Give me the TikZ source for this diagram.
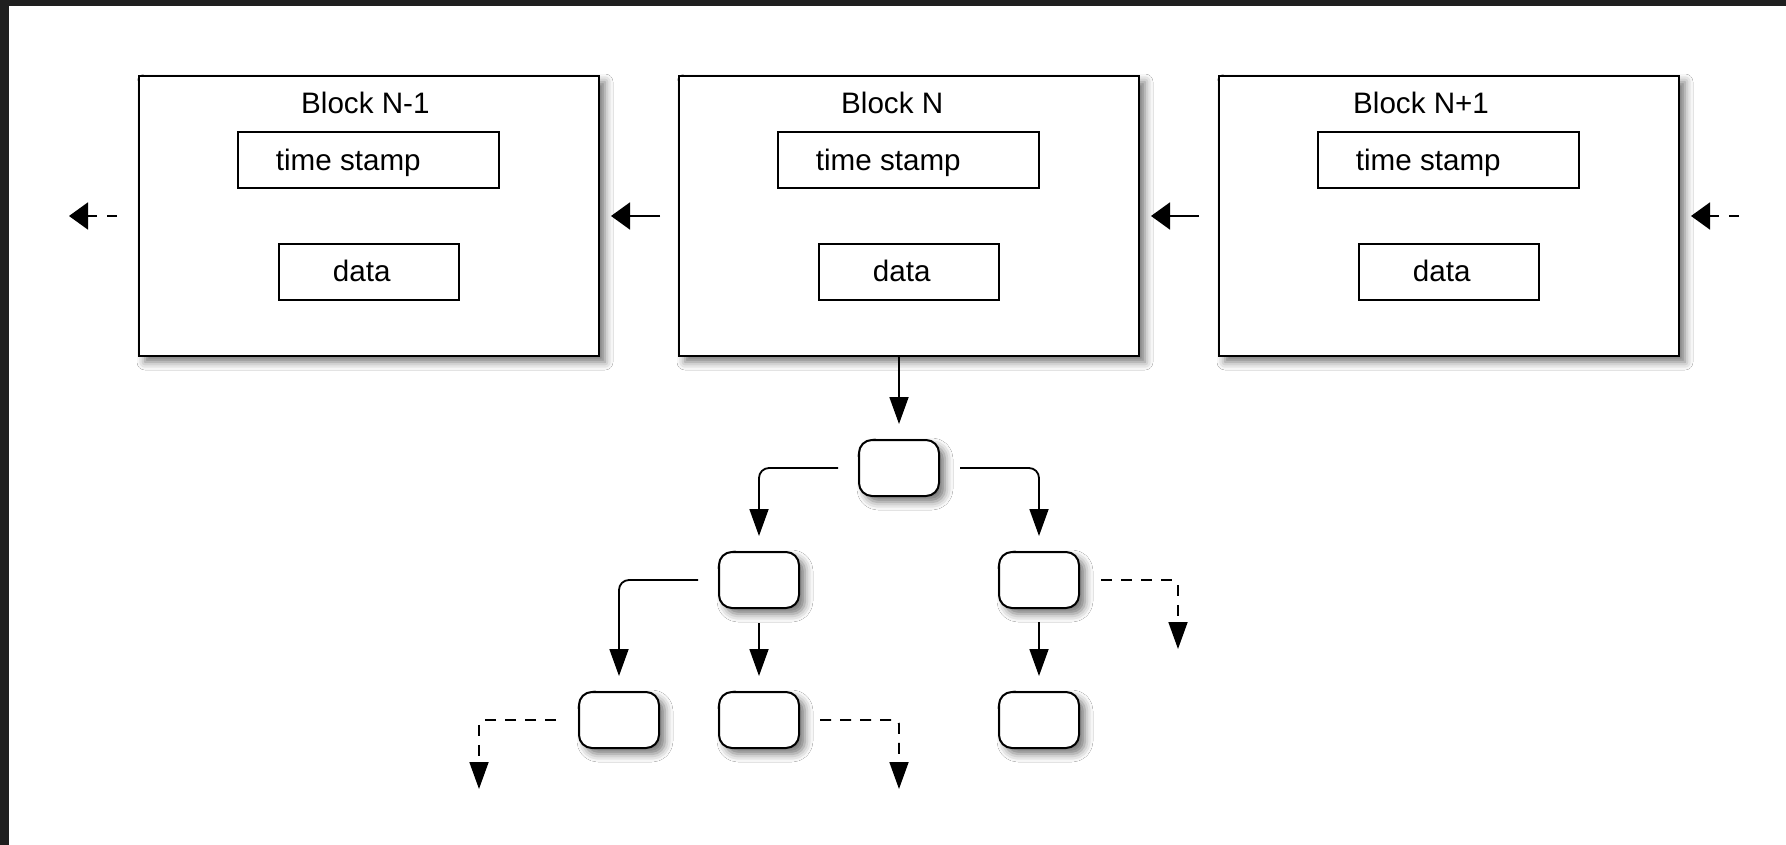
\documentclass[tikz,border=0pt]{standalone}
\usepackage{fontspec}
\setmainfont{Liberation Sans}
\usetikzlibrary{arrows.meta,shadows.blur,calc}
\definecolor{framedark}{HTML}{1F1F1F}
\begin{document}
\begin{tikzpicture}[x=1pt,y=-1pt,
  softshadow/.style={blur shadow={shadow xshift=6pt, shadow yshift=-6pt, shadow blur radius=8pt, shadow opacity=55}},
  blockbox/.style={draw=black, line width=2pt, fill=white, minimum width=460pt, minimum height=280pt, inner sep=0pt, softshadow},
  fieldbox/.style={draw=black, line width=2pt, fill=white, minimum height=56pt, inner sep=0pt},
  lbl/.style={inner sep=0pt, anchor=base west, font=\fontsize{29.6}{34}\selectfont},
  treenode/.style={draw=black, line width=2pt, fill=white, rounded corners=13pt, minimum width=80pt, minimum height=56pt, inner sep=0pt, softshadow},
  toparrow/.style={line width=1.8pt, -{Triangle[length=19pt,width=27pt]}},
  treearrow/.style={line width=1.8pt, -{Triangle[length=27pt,width=19pt]}, rounded corners=10pt},
  topdash/.style={dash pattern=on 10pt off 10pt},
  treedash/.style={dash pattern=on 11pt off 9pt, rounded corners=4pt},
]
\useasboundingbox (0,0) rectangle (1786,845);
\fill[white] (0,0) rectangle (1786,845);
\fill[framedark] (0,0) rectangle (9,845);
\fill[framedark] (0,0) rectangle (1786,6);

\foreach \n/\dx/\title/\tx in {a/0/{Block N-1}/301, b/540/{Block N}/841, c/1080/{Block N+1}/1353}{
  \node[blockbox] (blk\n) at (369+\dx,216) {};
  \node[lbl] (ttl\n) at (\tx,113.3) {\title};
  \node[fieldbox, minimum width=261pt] (ts\n) at (368.5+\dx,160) {};
  \node[lbl] (tst\n) at (275.7+\dx,170.7) {time stamp};
  \node[fieldbox, minimum width=180pt] (dat\n) at (369+\dx,272) {};
  \node[lbl] (datt\n) at (332.7+\dx,281.7) {data};
}

% top row connectors
\draw[toparrow, shorten <=18pt, shorten >=11pt] (blkb.west) -- (blka.east);
\draw[toparrow, shorten <=19pt, shorten >=11pt] (blkc.west) -- (blkb.east);
\coordinate (leftend) at (69,216);
\draw[toparrow, topdash, shorten <=21pt] (blka.west) -- (leftend);
\coordinate (rightstart) at (1739,216);
\draw[toparrow, topdash, shorten >=11pt] (rightstart) -- (blkc.east);

% tree
\node[treenode] (root) at (899,468) {};
\node[treenode] (l2a) at (759,580) {};
\node[treenode] (l2b) at (1039,580) {};
\node[treenode] (l3a) at (619,720) {};
\node[treenode] (l3b) at (759,720) {};
\node[treenode] (l3c) at (1039,720) {};

\draw[treearrow, shorten >=15pt] (blkb.south -| root.north) -- (root.north);
\draw[treearrow, shorten <=20pt, shorten >=15pt] (root.west) -| (l2a.north);
\draw[treearrow, shorten <=20pt, shorten >=15pt] (root.east) -| (l2b.north);
\draw[treearrow, shorten <=20pt, shorten >=15pt] (l2a.west) -| (l3a.north);
\draw[treearrow, shorten <=14pt, shorten >=15pt] (l2a.south) -- (l3b.north);
\draw[treearrow, shorten <=13pt, shorten >=15pt] (l2b.south) -- (l3c.north);

\coordinate (d1) at (1178,649);
\coordinate (d2) at (479,789);
\coordinate (d3) at (899,789);
\draw[treearrow, treedash, shorten <=21pt] (l2b.east) -| (d1);
\draw[treearrow, treedash, shorten <=22pt] (l3a.west) -| (d2);
\draw[treearrow, treedash, shorten <=20pt] (l3b.east) -| (d3);
\end{tikzpicture}
\end{document}
